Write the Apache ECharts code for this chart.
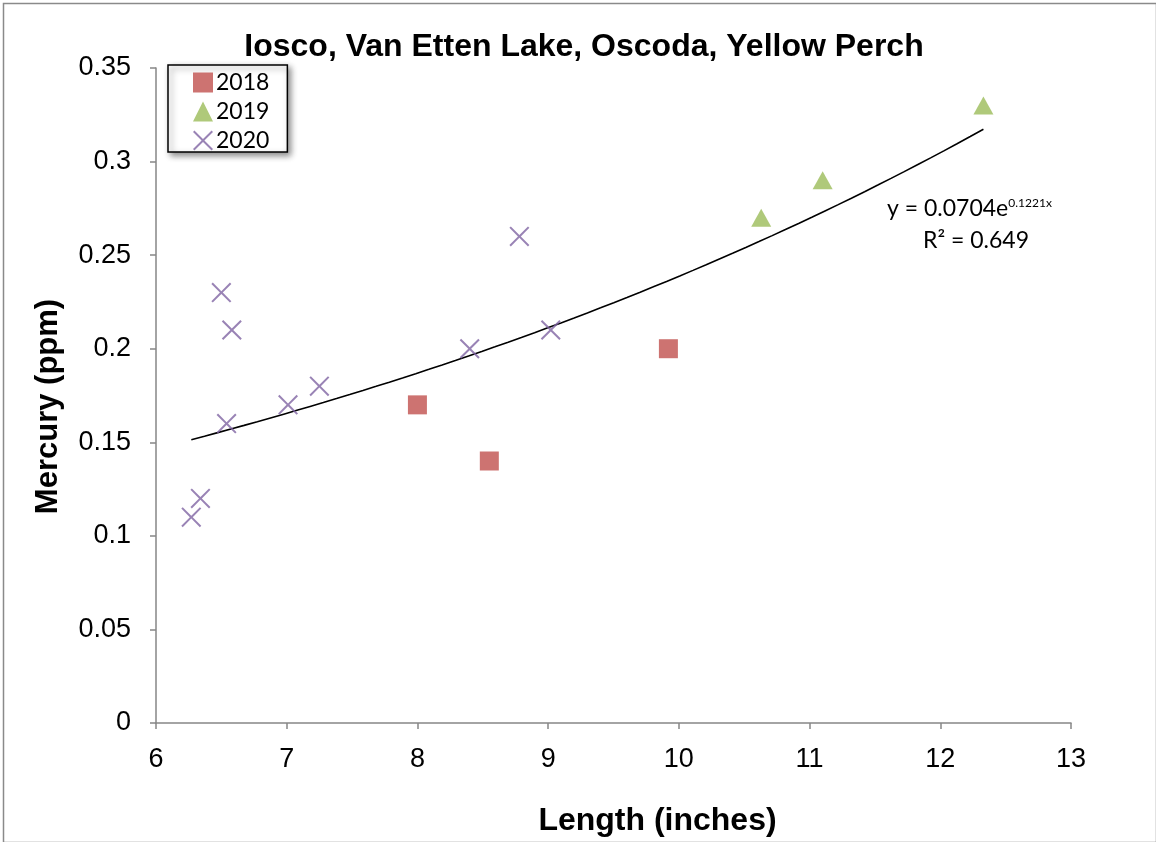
<!DOCTYPE html>
<html><head><meta charset="utf-8">
<script src="https://cdn.jsdelivr.net/npm/echarts@6/dist/echarts.min.js"></script>
<style>html,body{margin:0;padding:0;background:#fff}#c{width:1156px;height:842px}</style>
</head><body><div id="c"></div>
<script>
const title = 'Iosco, Van Etten Lake, Oscoda, Yellow Perch';
const xTitle = 'Length (inches)';
const yTitle = 'Mercury (ppm)';
const s2018 = [[8.0, 0.17], [8.55, 0.14], [9.92, 0.20]];
const s2019 = [[10.63, 0.27], [11.10, 0.29], [12.33, 0.33]];
const s2020 = [[6.27, 0.11], [6.34, 0.12], [6.50, 0.23], [6.54, 0.16], [6.58, 0.21], [7.01, 0.17], [7.25, 0.18], [8.40, 0.20], [8.78, 0.26], [9.02, 0.21]];
const fitA = 0.0704, fitB = 0.1221, fitR2 = 0.649;
const fitXMin = 6.27, fitXMax = 12.33;

const trend = [];
for (let i = 0; i <= 60; i++) {
  const x = fitXMin + (fitXMax - fitXMin) * i / 60;
  trend.push([x, fitA * Math.exp(fitB * x)]);
}
const crossPath = 'path://M0,1L1,0L7,6L13,0L14,1L8,7L14,13L13,14L7,8L1,14L0,13L6,7Z';
const chart = echarts.init(document.getElementById('c'));
const axisCol = '#868686';
chart.setOption({
  animation: false,
  backgroundColor: '#fff',
  title: { text: title, left: 579, top: 26, textAlign: 'center',
    textStyle: { fontFamily: 'Liberation Sans', fontWeight: 'bold', fontSize: 32, color: '#000' } },
  grid: { left: 156, right: 85, top: 68, bottom: 114 },
  legend: {
    orient: 'vertical', left: 168, top: 65, padding: [6, 18, 0, 25], itemGap: 6,
    itemWidth: 20, itemHeight: 20,
    backgroundColor: '#fff', borderColor: '#000', borderWidth: 1.5, borderRadius: 0,
    shadowBlur: 6, shadowColor: 'rgba(0,0,0,0.45)', shadowOffsetX: 3, shadowOffsetY: 3,
    textStyle: { fontFamily: 'Lato', fontSize: 23, lineHeight: 20, color: '#000', padding: [0,0,0,-2] },
    data: ['2018', '2019', '2020']
  },
  xAxis: {
    type: 'value', min: 6, max: 13, interval: 1,
    name: xTitle, nameLocation: 'middle', nameGap: 82,
    nameTextStyle: { fontFamily: 'Liberation Sans', fontWeight: 'bold', fontSize: 32, color: '#000', padding: [0, 0, 0, 88] },
    axisLine: { show: true, lineStyle: { color: axisCol, width: 1.5 } },
    axisTick: { show: true, length: 6, lineStyle: { color: axisCol, width: 1.5 } },
    axisLabel: { fontFamily: 'Liberation Sans', fontSize: 27, color: '#000', margin: 23 },
    splitLine: { show: false }
  },
  yAxis: {
    type: 'value', min: 0, max: 0.35, interval: 0.05,
    name: yTitle, nameLocation: 'middle', nameGap: 92, nameRotate: 90,
    nameTextStyle: { fontFamily: 'Liberation Sans', fontWeight: 'bold', fontSize: 31, color: '#000', padding: [0, 22, 0, 0] },
    axisLine: { show: true, lineStyle: { color: axisCol, width: 1.5 } },
    axisTick: { show: true, length: 6, lineStyle: { color: axisCol, width: 1.5 } },
    axisLabel: { fontFamily: 'Liberation Sans', fontSize: 27, color: '#000', margin: 25 },
    splitLine: { show: false }
  },
  series: [
    { name: 'trend', type: 'line', data: trend, showSymbol: false, smooth: false,
      lineStyle: { color: '#000', width: 1.6 }, silent: true, z: 1 },
    { name: '2018', type: 'scatter', data: s2018, symbol: 'rect', symbolSize: 19,
      itemStyle: { color: '#C0504D' }, z: 3 },
    { name: '2019', type: 'scatter', data: s2019, symbol: 'triangle', symbolSize: [20, 18],
      itemStyle: { color: '#9BBB59' }, z: 3 },
    { name: '2020', type: 'scatter', data: s2020, symbol: crossPath, symbolSize: 20,
      itemStyle: { color: '#8064A2' }, z: 3 }
  ],
  graphic: [
    { type: 'rect', left: 1, top: 1, shape: { width: 1153, height: 839 }, silent: true,
      style: { fill: 'none', stroke: '#8a8a8a', lineWidth: 1.5 }, z: -10 },
    { type: 'text', left: 887, top: 197,
      style: { text: '{a|y = 0.0704e}{b|' + fitB.toFixed(4) + 'x}', rich: {
        a: { fontFamily: 'Lato', fontSize: 23, color: '#000' },
        b: { fontFamily: 'Lato', fontSize: 12, color: '#000', verticalAlign: 'top', padding: [0,0,12,0] } } } },
    { type: 'text', left: 923, top: 229,
      style: { text: 'R² = ' + fitR2, fontFamily: 'Lato', fontSize: 23, fill: '#000' } }
  ]
});
</script></body></html>
